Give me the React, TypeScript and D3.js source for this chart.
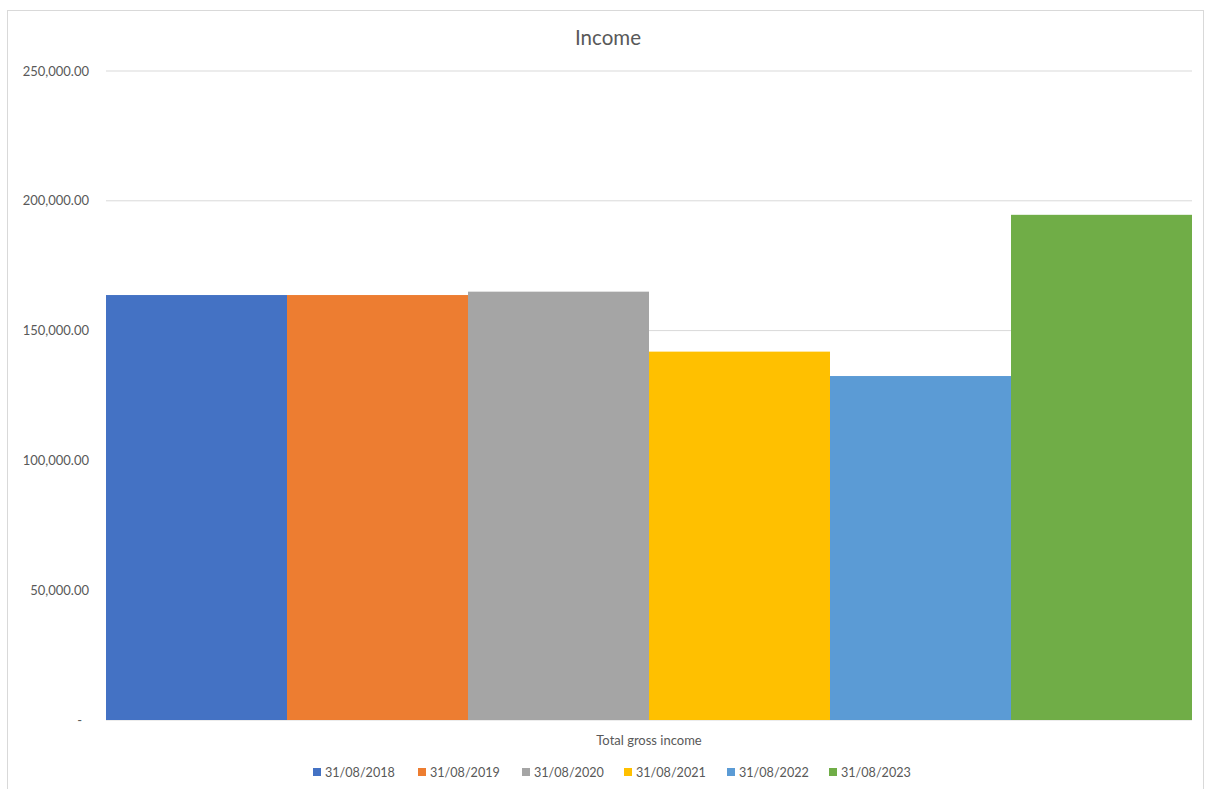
import React from "react";
import * as d3 from "d3";

const seriesNames = ["31/08/2018", "31/08/2019", "31/08/2020", "31/08/2021", "31/08/2022", "31/08/2023"];
const seriesValues = [163700, 163700, 165000, 141900, 132500, 194600];
const seriesColors = ["#4472C4", "#ED7D31", "#A5A5A5", "#FFC000", "#5B9BD5", "#70AD47"];
const categories = ["Total gross income"];
const yTicks = [0, 50000, 100000, 150000, 200000, 250000];

const W = 1205;
const H = 789;
const plot = { left: 106, right: 1192, top: 71, bottom: 720 };
const FONT = "Lato, 'Open Sans', sans-serif";
const TXT = "#595959";

export default function App() {
  const y = d3.scaleLinear().domain([0, 250000]).range([plot.bottom, plot.top]);
  const xCat = d3.scaleBand().domain(categories).range([plot.left, plot.right]).padding(0);
  const xSeries = d3.scaleBand().domain(seriesNames).range([0, xCat.bandwidth()]).padding(0);
  const fmt = d3.format(",.2f");

  const legendX = [313, 418, 522, 624, 727, 829];

  return (
    <svg width={W} height={H} style={{ position: "absolute", left: 0, top: 0, background: "#fff" }}>
      <rect x={7.5} y={10.5} width={1196} height={790} fill="#fff" stroke="#D9D9D9" strokeWidth={1} />
      <text x={608} y={45} textAnchor="middle" fontFamily={FONT} fontSize={20.5} fill={TXT}>Income</text>
      {yTicks.map((t) => (
        <g key={t}>
          <line x1={plot.left} x2={plot.right} y1={y(t)} y2={y(t)} stroke="#D9D9D9" strokeWidth={1} />
          <text x={t === 0 ? 82 : 89} y={y(t) + 4.5} textAnchor="end" fontFamily={FONT} fontSize={13} fill={TXT}>
            {t === 0 ? "-" : fmt(t)}
          </text>
        </g>
      ))}
      {categories.map((c) => (
        <g key={c}>
          {seriesNames.map((s, i) => (
            <rect
              key={s}
              x={(xCat(c) as number) + (xSeries(s) as number)}
              y={y(seriesValues[i])}
              width={xSeries.bandwidth()}
              height={plot.bottom - y(seriesValues[i])}
              fill={seriesColors[i]}
            />
          ))}
          <text x={(xCat(c) as number) + xCat.bandwidth() / 2} y={745} textAnchor="middle" fontFamily={FONT} fontSize={13} fill={TXT}>
            {c}
          </text>
        </g>
      ))}
      {seriesNames.map((s, i) => (
        <g key={s}>
          <rect x={legendX[i]} y={768} width={8} height={8} fill={seriesColors[i]} />
          <text x={legendX[i] + 12} y={777} fontFamily={FONT} fontSize={12.6} fill={TXT}>{s}</text>
        </g>
      ))}
    </svg>
  );
}
